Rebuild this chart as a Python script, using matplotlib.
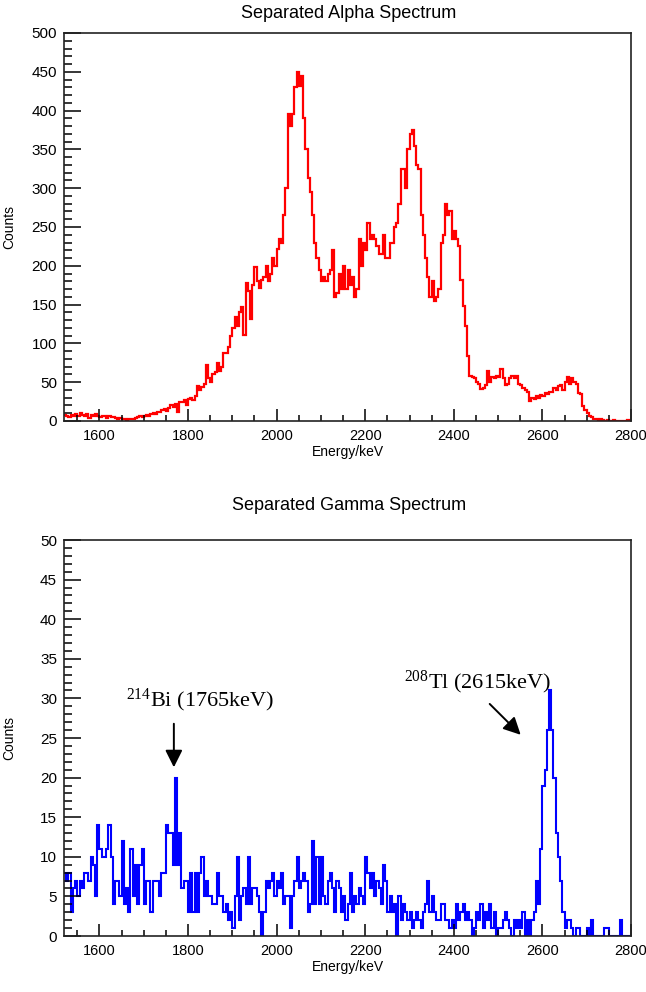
import numpy as np
import matplotlib
matplotlib.use("Agg")
import matplotlib.pyplot as plt
from matplotlib.ticker import MultipleLocator

# ---------------- data ----------------
E_START = 1520      # keV, left edge of first bin
BIN_WIDTH = 5       # keV

alpha_counts = [
    # 1520-1615
    8, 7, 5, 8, 6, 9, 7, 10, 8, 6, 9, 4, 8, 7, 9, 6, 5, 7, 6, 4,
    # 1620-1715
    6, 5, 5, 4, 3, 4, 2, 3, 1, 2, 2, 3, 4, 5, 6, 5, 7, 8, 6, 9,
    # 1720-1815
    10, 9, 12, 11, 14, 16, 13, 17, 20, 18, 22, 12, 24, 25, 27, 20, 28, 30, 27, 32,
    # 1820-1915
    45, 40, 44, 48, 72, 55, 50, 60, 63, 75, 65, 70, 87, 88, 95, 109, 120, 134, 122, 140,
    # 1920-2015
    147, 111, 178, 167, 132, 175, 198, 180, 172, 182, 185, 200, 180, 190, 210, 200, 222, 235, 230, 265,
    # 2020-2115
    300, 395, 380, 395, 430, 450, 432, 445, 390, 350, 313, 295, 265, 230, 210, 195, 180, 185, 180, 190,
    # 2120-2215
    195, 220, 160, 165, 190, 170, 200, 170, 195, 175, 185, 160, 170, 235, 200, 230, 220, 255, 235, 240,
    # 2220-2315
    235, 225, 215, 215, 240, 210, 210, 230, 230, 250, 255, 280, 325, 325, 300, 350, 370, 375, 355, 330,
    # 2320-2415
    325, 265, 240, 210, 185, 160, 180, 155, 160, 170, 230, 240, 280, 265, 270, 235, 245, 235, 225, 182,
    # 2420-2515
    148, 122, 84, 58, 57, 55, 50, 48, 41, 42, 46, 65, 50, 57, 55, 58, 57, 67, 55, 46,
    # 2520-2615
    48, 55, 58, 55, 58, 48, 46, 42, 40, 38, 26, 30, 28, 32, 30, 33, 32, 36, 35, 38,
    # 2620-2715
    38, 42, 40, 45, 46, 40, 50, 57, 48, 55, 50, 48, 36, 35, 19, 14, 10, 7, 5, 3,
    # 2720-2795
    2, 1, 2, 1, 0, 1, 0, 0, 1, 0, 0, 0, 0, 0, 1, 0,
]

gamma_counts = [
    # 1520-1615
    8, 7, 8, 3, 6, 7, 5, 7, 6, 8, 8, 7, 10, 9, 5, 14, 11, 10, 10, 11,
    # 1620-1715
    14, 10, 4, 7, 7, 5, 12, 4, 6, 3, 11, 5, 9, 4, 9, 11, 4, 7, 7, 3,
    # 1720-1815
    7, 7, 7, 5, 8, 8, 14, 13, 13, 9, 20, 9, 13, 6, 7, 7, 3, 8, 3, 8,
    # 1820-1915
    3, 8, 10, 5, 7, 5, 5, 4, 4, 8, 5, 5, 3, 4, 2, 3, 1, 5, 10, 2,
    # 1920-2015
    5, 6, 4, 10, 4, 6, 6, 5, 3, 0, 3, 7, 6, 7, 8, 5, 7, 6, 8, 4,
    # 2020-2115
    5, 5, 1, 5, 7, 10, 6, 7, 8, 7, 3, 4, 12, 4, 10, 4, 10, 5, 4, 7,
    # 2120-2215
    8, 6, 3, 7, 6, 3, 5, 2, 4, 8, 3, 5, 4, 6, 5, 4, 10, 8, 6, 8,
    # 2220-2315
    5, 7, 6, 4, 9, 7, 3, 5, 3, 4, 0, 5, 2, 4, 3, 2, 3, 1, 2, 3,
    # 2320-2415
    2, 1, 3, 4, 7, 3, 5, 3, 2, 2, 4, 4, 2, 2, 1, 2, 1, 4, 2, 3,
    # 2420-2515
    4, 2, 3, 2, 0, 1, 3, 2, 4, 1, 3, 2, 4, 1, 3, 0, 1, 1, 2, 3,
    # 2520-2615
    2, 1, 0, 2, 1, 2, 1, 3, 0, 2, 0, 2, 3, 7, 4, 11, 19, 21, 26, 31,
    # 2620-2715
    26, 20, 13, 10, 7, 3, 1, 2, 2, 1, 0, 1, 1, 0, 0, 0, 1, 0, 2, 0,
    # 2720-2795
    0, 0, 0, 0, 1, 1, 0, 0, 0, 0, 0, 2, 0, 0, 0, 0,
]

x_ticks = [1600, 1800, 2000, 2200, 2400, 2600, 2800]
alpha_title = "Separated Alpha Spectrum"
gamma_title = "Separated Gamma Spectrum"
x_label = "Energy/keV"
y_label = "Counts"
bi_label = r"$^{\mathrm{214}}$Bi (1765keV)"
tl_label = r"$^{\mathrm{208}}$Tl (2615keV)"

# ---------------- style ----------------
SANS = ["Liberation Sans Narrow", "Liberation Sans", "DejaVu Sans"]
plt.rcParams["font.family"] = SANS
plt.rcParams["mathtext.fontset"] = "custom"
plt.rcParams["mathtext.rm"] = "Liberation Serif"
plt.rcParams["mathtext.it"] = "Liberation Serif:italic"
plt.rcParams["mathtext.bf"] = "Liberation Serif:bold"

W, H = 646, 992
fig = plt.figure(figsize=(W / 100, H / 100), dpi=100)

AX_L, AX_R = 64, 631

def px(x0, y0, x1, y1):
    return [x0 / W, 1 - y1 / H, (x1 - x0) / W, (y1 - y0) / H]

ax1 = fig.add_axes(px(AX_L, 33, AX_R, 421))
ax2 = fig.add_axes(px(AX_L, 540, AX_R, 936))

def edges(n):
    return E_START + BIN_WIDTH * np.arange(n + 1)

ax1.stairs(alpha_counts, edges(len(alpha_counts)), color="#ff0000", lw=1.6, baseline=None)
ax2.stairs(gamma_counts, edges(len(gamma_counts)), color="#0000ff", lw=1.5, baseline=None)

def style(ax, ymax, ymajor, yminor):
    ax.set_xlim(1520, 2800)
    ax.set_ylim(0, ymax)
    ax.set_xticks(x_ticks)
    ax.xaxis.set_minor_locator(MultipleLocator(50))
    ax.yaxis.set_major_locator(MultipleLocator(ymajor))
    ax.yaxis.set_minor_locator(MultipleLocator(yminor))
    ax.tick_params(axis="both", which="both", direction="in", top=False, right=False,
                   colors="black", width=1.1)
    ax.tick_params(axis="y", which="major", length=12, pad=5, labelsize=11)
    ax.tick_params(axis="y", which="minor", length=6)
    ax.tick_params(axis="x", which="major", length=8.5, pad=6, labelsize=10.5)
    ax.tick_params(axis="x", which="minor", length=4.3)
    for s in ax.spines.values():
        s.set_linewidth(1.2)
        s.set_color("#222222")
    ax.set_xlabel(x_label, fontsize=10, labelpad=1)
    ax.set_ylabel(y_label, fontsize=10)
    ax.yaxis.set_label_coords(-(AX_L - 16) / (AX_R - AX_L), 0.5)

style(ax1, 500, 50, 10)
style(ax2, 50, 5, 1)

fig.text(349 / W, 1 - 13 / H, alpha_title, ha="center", va="center", fontsize=13)
fig.text(349 / W, 1 - 505 / H, gamma_title, ha="center", va="center", fontsize=13)

SERIF = ["Liberation Serif", "DejaVu Serif"]
ax2.text(1660, 29.0, bi_label, fontsize=16, family=SERIF, ha="left", va="baseline")
ax2.text(2287, 31.3, tl_label, fontsize=16, family=SERIF, ha="left", va="baseline")
arrow = dict(arrowstyle="-|>", color="black", lw=1.4, mutation_scale=26, shrinkA=0, shrinkB=0)
ax2.annotate("", xy=(1768, 21.3), xytext=(1768, 26.8), arrowprops=arrow)
ax2.annotate("", xy=(2551, 25.4), xytext=(2481, 29.3), arrowprops=arrow)

fig.savefig("out.png", dpi=100)
